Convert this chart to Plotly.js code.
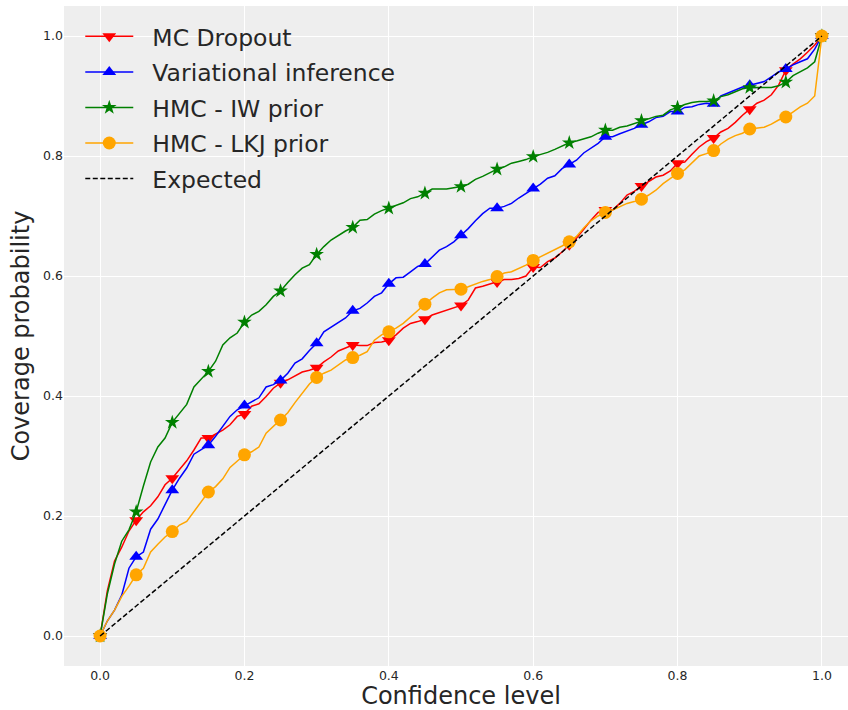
<!DOCTYPE html>
<html>
<head>
<meta charset="utf-8">
<script src="https://cdn.plot.ly/plotly-3.0.1.min.js"></script>
<style>
  html, body { margin: 0; padding: 0; overflow: hidden; background: #ffffff; }
  #chart { width: 858px; height: 710px; }
</style>
</head>
<body>
<div id="chart"></div>
<script>
// Nominal confidence levels (x axis)
const confidenceLevels = [
  0.00, 0.01, 0.02, 0.03, 0.04, 0.05, 0.06, 0.07, 0.08, 0.09,
  0.10, 0.11, 0.12, 0.13, 0.14, 0.15, 0.16, 0.17, 0.18, 0.19,
  0.20, 0.21, 0.22, 0.23, 0.24, 0.25, 0.26, 0.27, 0.28, 0.29,
  0.30, 0.31, 0.32, 0.33, 0.34, 0.35, 0.36, 0.37, 0.38, 0.39,
  0.40, 0.41, 0.42, 0.43, 0.44, 0.45, 0.46, 0.47, 0.48, 0.49,
  0.50, 0.51, 0.52, 0.53, 0.54, 0.55, 0.56, 0.57, 0.58, 0.59,
  0.60, 0.61, 0.62, 0.63, 0.64, 0.65, 0.66, 0.67, 0.68, 0.69,
  0.70, 0.71, 0.72, 0.73, 0.74, 0.75, 0.76, 0.77, 0.78, 0.79,
  0.80, 0.81, 0.82, 0.83, 0.84, 0.85, 0.86, 0.87, 0.88, 0.89,
  0.90, 0.91, 0.92, 0.93, 0.94, 0.95, 0.96, 0.97, 0.98, 0.99,
  1.00
];

// Empirical coverage for each method
const mcDropout = [
  0, 0.075, 0.125, 0.148, 0.175, 0.193, 0.207, 0.217, 0.232, 0.252,
  0.263, 0.278, 0.292, 0.31, 0.33, 0.33, 0.337, 0.343, 0.352, 0.366,
  0.37, 0.383, 0.387, 0.399, 0.413, 0.422, 0.427, 0.433, 0.44, 0.443,
  0.447, 0.457, 0.465, 0.475, 0.48, 0.485, 0.484, 0.484, 0.489, 0.49,
  0.493, 0.502, 0.513, 0.521, 0.524, 0.528, 0.535, 0.539, 0.543, 0.548,
  0.551, 0.56, 0.58, 0.583, 0.587, 0.59, 0.594, 0.594, 0.596, 0.6,
  0.615, 0.614, 0.624, 0.63, 0.64, 0.652, 0.663, 0.678, 0.693, 0.706,
  0.71, 0.71, 0.721, 0.735, 0.741, 0.75, 0.757, 0.765, 0.768, 0.775,
  0.788, 0.79, 0.803, 0.815, 0.824, 0.83, 0.84, 0.846, 0.856, 0.868,
  0.878, 0.888, 0.893, 0.902, 0.918, 0.943, 0.953, 0.962, 0.973, 0.985,
  1.0
];

const variationalInference = [
  0, 0.025, 0.043, 0.068, 0.113, 0.132, 0.14, 0.178, 0.195, 0.218,
  0.243, 0.263, 0.28, 0.303, 0.31, 0.318, 0.333, 0.35, 0.366, 0.377,
  0.384, 0.39, 0.397, 0.415, 0.419, 0.426, 0.438, 0.455, 0.462, 0.476,
  0.488, 0.507, 0.515, 0.522, 0.53, 0.542, 0.546, 0.555, 0.566, 0.572,
  0.587, 0.597, 0.598, 0.607, 0.616, 0.62, 0.632, 0.643, 0.649, 0.657,
  0.668, 0.679, 0.692, 0.704, 0.713, 0.713, 0.716, 0.721, 0.73, 0.738,
  0.746, 0.753, 0.763, 0.767, 0.779, 0.786, 0.793, 0.805, 0.813, 0.821,
  0.832, 0.832, 0.837, 0.841, 0.846, 0.852, 0.857, 0.864, 0.866, 0.874,
  0.874, 0.881, 0.882, 0.886, 0.888, 0.887, 0.9, 0.905, 0.91, 0.915,
  0.918, 0.921, 0.924, 0.932, 0.94, 0.945, 0.952, 0.957, 0.962, 0.978,
  1.0
];

const hmcIwPrior = [
  0, 0.07, 0.12, 0.158, 0.177, 0.207, 0.25, 0.29, 0.315, 0.33,
  0.356, 0.371, 0.386, 0.415, 0.428, 0.441, 0.458, 0.485, 0.497, 0.505,
  0.523, 0.535, 0.541, 0.552, 0.566, 0.575, 0.589, 0.602, 0.613, 0.619,
  0.636, 0.649, 0.66, 0.668, 0.675, 0.681, 0.693, 0.694, 0.703, 0.709,
  0.713, 0.717, 0.722, 0.729, 0.732, 0.738, 0.745, 0.745, 0.745, 0.747,
  0.749, 0.753, 0.761, 0.766, 0.772, 0.778, 0.782, 0.788, 0.791, 0.794,
  0.799, 0.802, 0.806, 0.811, 0.817, 0.822, 0.825, 0.828, 0.832, 0.838,
  0.843, 0.843, 0.848, 0.85, 0.854, 0.859, 0.863, 0.866, 0.868, 0.877,
  0.881, 0.886, 0.889, 0.891, 0.891, 0.892, 0.899, 0.902, 0.907, 0.912,
  0.914, 0.914, 0.914, 0.914, 0.917, 0.923, 0.934, 0.941, 0.947, 0.957,
  1.0
];

const hmcLkjPrior = [
  0, 0.025, 0.043, 0.066, 0.083, 0.102, 0.113, 0.14, 0.153, 0.165,
  0.174, 0.185, 0.191, 0.207, 0.223, 0.24, 0.249, 0.262, 0.281, 0.291,
  0.302, 0.307, 0.315, 0.338, 0.349, 0.36, 0.372, 0.389, 0.405, 0.42,
  0.431, 0.438, 0.443, 0.452, 0.46, 0.464, 0.468, 0.474, 0.493, 0.502,
  0.507, 0.513, 0.521, 0.532, 0.543, 0.553, 0.563, 0.572, 0.577, 0.578,
  0.578, 0.582, 0.587, 0.591, 0.594, 0.599, 0.605, 0.607, 0.613, 0.618,
  0.626, 0.632, 0.638, 0.643, 0.65, 0.657, 0.666, 0.68, 0.692, 0.70,
  0.706, 0.71, 0.716, 0.721, 0.724, 0.728, 0.735, 0.743, 0.754, 0.762,
  0.771, 0.777, 0.788, 0.80, 0.804, 0.809, 0.82, 0.828, 0.834, 0.838,
  0.845, 0.846, 0.848, 0.853, 0.86, 0.865, 0.873, 0.882, 0.888, 0.9,
  1.0
];

// Perfect calibration reference
const expectedX = [0, 1];
const expectedY = [0, 1];

const seriesNames = ['MC Dropout', 'Variational inference', 'HMC - IW prior', 'HMC - LKJ prior'];
const expectedName = 'Expected';

const tickValues = [0, 0.2, 0.4, 0.6, 0.8, 1.0];
const tickLabels = ['0.0', '0.2', '0.4', '0.6', '0.8', '1.0'];

const xTitle = 'Confidence level';
const yTitle = 'Coverage probability';

// Drawing styles
const seriesData = [mcDropout, variationalInference, hmcIwPrior, hmcLkjPrior];
const seriesStyles = [
  { color: '#ff0000', symbol: 'triangle-down', size: 12 },
  { color: '#0000ff', symbol: 'triangle-up', size: 12 },
  { color: '#008000', symbol: 'star', size: 11 },
  { color: '#ffa500', symbol: 'circle', size: 13 }
];
const markEvery = 5;
const markedIdx = confidenceLevels.map((_, i) => i).filter(i => i % markEvery === 0);
const FONT = 'DejaVu Sans, sans-serif';
const TEXT_COLOR = '#262626';
// gap between the legend symbol and its label
const LEGEND_PAD = '\u2002\u200A';

const traces = seriesData.map((ys, k) => ({
  type: 'scatter',
  mode: 'lines+markers',
  name: LEGEND_PAD + seriesNames[k],
  legendgroup: seriesNames[k],
  x: confidenceLevels,
  y: ys,
  line: { color: seriesStyles[k].color, width: 1.5 },
  marker: { color: seriesStyles[k].color, symbol: seriesStyles[k].symbol,
            size: seriesStyles[k].size, line: { width: 0 } },
  // show a marker on every fifth level only
  selectedpoints: markedIdx,
  selected: { marker: { opacity: 1 } },
  unselected: { marker: { opacity: 0 } },
  hoverinfo: 'skip'
}));

traces.push({
  type: 'scatter',
  mode: 'lines',
  name: LEGEND_PAD + expectedName,
  legendgroup: expectedName,
  x: expectedX,
  y: expectedY,
  line: { color: '#000000', width: 1.5, dash: '5px,2.5px' },
  hoverinfo: 'skip'
});

const axisCommon = {
  range: [-0.05, 1.05],
  tickvals: tickValues,
  ticktext: tickLabels,
  showgrid: true,
  gridcolor: '#ffffff',
  gridwidth: 1,
  zeroline: false,
  showline: false,
  ticks: '',
  tickfont: { family: FONT, size: 12.5, color: TEXT_COLOR },
  automargin: false,
  fixedrange: true
};

const layout = {
  width: 858,
  height: 710,
  margin: { l: 64, r: 0, t: 6, b: 44 },
  paper_bgcolor: '#ffffff',
  plot_bgcolor: '#eeeeee',
  showlegend: true,
  legend: {
    x: 0.0205, y: 0.987, xanchor: 'left', yanchor: 'top',
    bgcolor: 'rgba(0,0,0,0)',
    font: { family: FONT, size: 23.5, color: TEXT_COLOR },
    traceorder: 'grouped',
    tracegroupgap: 2,
    itemwidth: 48
  },
  xaxis: Object.assign({}, axisCommon, {
    title: { text: xTitle, font: { family: FONT, size: 24, color: TEXT_COLOR }, standoff: 7 }
  }),
  yaxis: Object.assign({}, axisCommon, {
    title: { text: yTitle, font: { family: FONT, size: 24, color: TEXT_COLOR }, standoff: 6 }
  })
};

Plotly.newPlot('chart', traces, layout, { displayModeBar: false, staticPlot: true });
</script>
</body>
</html>
